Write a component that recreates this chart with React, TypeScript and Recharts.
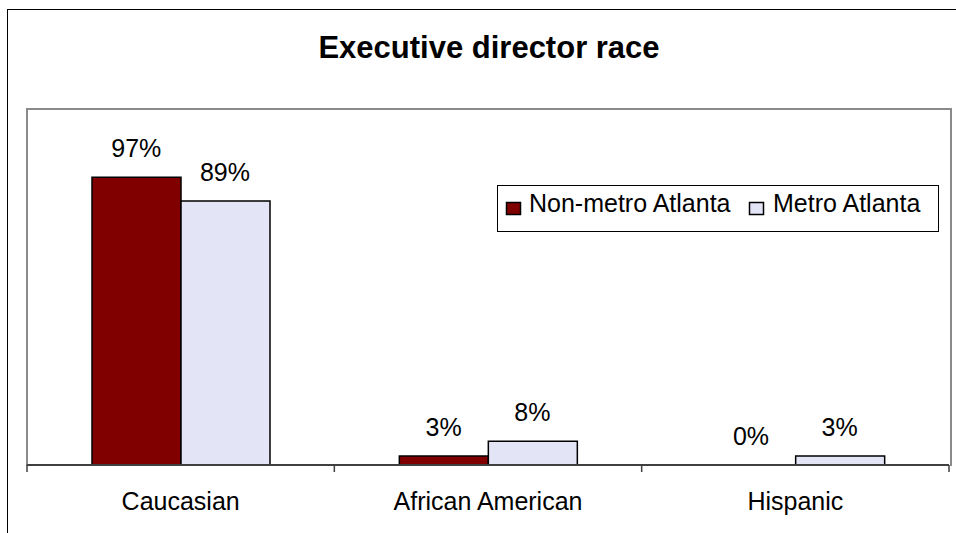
import { ComposedChart, Bar, Line, XAxis, YAxis, Legend, LabelList } from "recharts";

const categories = ["Caucasian", "African American", "Hispanic"];
const nonMetro = [97, 3, 0];
const metro = [89, 8, 3];
const seriesNames = ["Non-metro Atlanta", "Metro Atlanta"];
const seriesColors = ["#800000", "#E4E4F7"];

const data = categories.map((c, i) => ({
  category: c,
  nonMetro: nonMetro[i],
  metro: metro[i],
}));

const FONT = "'Liberation Sans', Arial, sans-serif";
const W = 956;
const H = 533;
const AXIS_H = 30;
const CAT_GAP = 65;
const margin = { top: 109, right: 7, bottom: 68 - AXIS_H, left: 27 };
const band = (W - margin.left - margin.right) / categories.length;
const barW = (band - 2 * CAT_GAP) / 2;

function CategoryTick(props: any) {
  const { x, y, payload, index } = props;
  const half = band / 2;
  return (
    <g>
      <line x1={x - half} x2={x - half} y1={y} y2={y + 7} stroke="#404040" strokeWidth={1.5} />
      {index === categories.length - 1 && (
        <line x1={x + half} x2={x + half} y1={y} y2={y + 7} stroke="#404040" strokeWidth={1.5} />
      )}
      <text x={x} y={y + 45} textAnchor="middle" fontSize={25} fontFamily={FONT} fill="#000">
        {payload.value}
      </text>
    </g>
  );
}

// value label drawn from a line point (category centre), shifted onto its bar
const valueLabel = (shift: number) => (props: any) => {
  const { x, y, value } = props;
  return (
    <text x={x + shift} y={y - 20} textAnchor="middle" fontSize={25} fontFamily={FONT} fill="#000">
      {`${value}%`}
    </text>
  );
};

function LegendBox() {
  return (
    <svg width={442} height={47} style={{ display: "block" }}>
      <rect x={0.5} y={0.5} width={441} height={46} fill="#fff" stroke="#000" strokeWidth={1} />
      <rect x={9.5} y={17.5} width={14} height={12} fill={seriesColors[0]} stroke="#000" strokeWidth={1.5} />
      <text x={32} y={27} fontSize={25} fontFamily={FONT} fill="#000">{seriesNames[0]}</text>
      <rect x={252.5} y={17.5} width={14} height={12} fill={seriesColors[1]} stroke="#000" strokeWidth={1.5} />
      <text x={276} y={27} fontSize={25} fontFamily={FONT} fill="#000">{seriesNames[1]}</text>
    </svg>
  );
}

export default function App() {
  return (
    <div style={{ position: "absolute", left: 0, top: 0, width: W, height: H, overflow: "hidden", background: "#fff" }}>
      {/* outer chart frame, runs off the right and bottom edges */}
      <div style={{ position: "absolute", left: 7, top: 9, width: 1000, height: 600, border: "1.5px solid #000" }} />
      {/* plot area frame */}
      <div
        style={{
          position: "absolute",
          left: margin.left - 1,
          top: margin.top - 1,
          width: W - margin.left - margin.right,
          height: H - margin.top - margin.bottom - AXIS_H,
          border: "2px solid #8a8a8a",
          borderBottom: "none",
        }}
      />
      <svg width={W} height={80} style={{ position: "absolute", left: 0, top: 0 }}>
        <text x={489} y={58} textAnchor="middle" fontSize={31} fontWeight="bold" fontFamily={FONT} fill="#000">
          Executive director race
        </text>
      </svg>
      <div style={{ position: "absolute", left: 0, top: 0 }}>
        <ComposedChart width={W} height={H} data={data} margin={margin} barCategoryGap={CAT_GAP} barGap={0}>
          <XAxis
            dataKey="category"
            interval={0}
            height={AXIS_H}
            tickLine={false}
            tickSize={0}
            tickMargin={0}
            axisLine={{ stroke: "#404040", strokeWidth: 2 }}
            tick={<CategoryTick />}
          />
          <YAxis hide domain={[0, 120]} />
          <Legend
            layout="horizontal"
            verticalAlign="middle"
            align="center"
            content={() => <LegendBox />}
            wrapperStyle={{ position: "absolute", left: 497, top: 185, width: 442, height: 47 }}
          />
          <Bar dataKey="nonMetro" name={seriesNames[0]} fill={seriesColors[0]} stroke="#000" strokeWidth={1.5} isAnimationActive={false} />
          <Bar dataKey="metro" name={seriesNames[1]} fill={seriesColors[1]} stroke="#000" strokeWidth={1.5} isAnimationActive={false} />
          <Line dataKey="nonMetro" legendType="none" stroke="none" dot={false} activeDot={false} isAnimationActive={false}>
            <LabelList dataKey="nonMetro" content={valueLabel(-barW / 2)} />
          </Line>
          <Line dataKey="metro" legendType="none" stroke="none" dot={false} activeDot={false} isAnimationActive={false}>
            <LabelList dataKey="metro" content={valueLabel(barW / 2)} />
          </Line>
        </ComposedChart>
      </div>
    </div>
  );
}
